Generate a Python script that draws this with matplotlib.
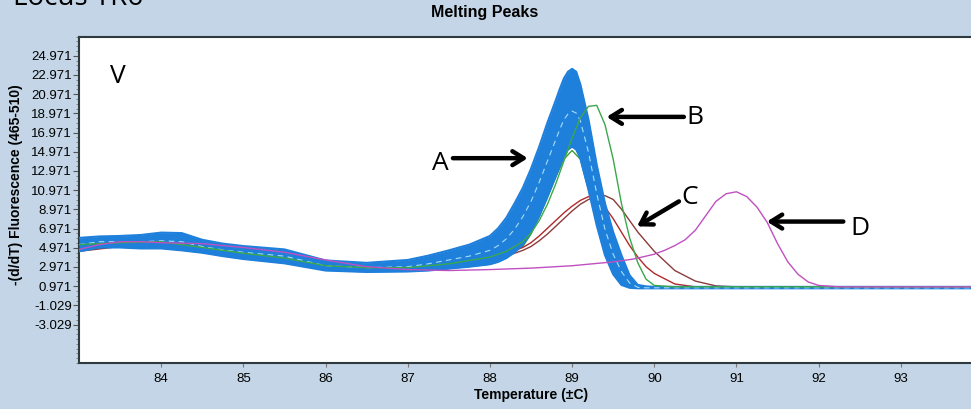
import numpy as np
import matplotlib
matplotlib.use("Agg")
import matplotlib.pyplot as plt

# group A: edges of the bundle of blue samples
blue_t = [83.0, 83.25, 83.5, 83.75, 84.0, 84.25, 84.5, 84.75, 85.0, 85.5,
          86.0, 86.5, 87.0, 87.25, 87.5, 87.75, 88.0, 88.1, 88.2, 88.3,
          88.4, 88.5, 88.6, 88.7, 88.8, 88.85, 88.9, 88.95, 89.0, 89.05,
          89.1, 89.2, 89.3, 89.4, 89.5, 89.6, 89.7, 89.8, 89.9, 90.0,
          91.0, 92.0, 93.0, 94.0]
blue_top = [6.0, 6.15, 6.2, 6.3, 6.55, 6.5, 5.8, 5.4, 5.15, 4.8,
            3.65, 3.4, 3.7, 4.15, 4.7, 5.3, 6.2, 7.0, 8.1, 9.6,
            11.2, 13.2, 15.5, 18.0, 20.3, 21.5, 22.6, 23.3, 23.6, 23.3,
            22.0, 18.3, 13.6, 9.6, 6.6, 4.2, 2.1, 1.1, 0.95, 0.9,
            0.9, 0.9, 0.9, 0.9]
blue_low = [4.6, 5.0, 5.0, 4.9, 4.9, 4.7, 4.45, 4.1, 3.8, 3.35,
            2.6, 2.45, 2.5, 2.6, 2.8, 3.0, 3.25, 3.5, 3.9, 4.5,
            5.3, 6.6, 8.3, 10.3, 12.4, 13.5, 14.5, 15.2, 15.5, 15.2,
            14.3, 11.0, 7.3, 4.2, 2.2, 1.1, 0.8, 0.75, 0.75, 0.75,
            0.75, 0.75, 0.75, 0.75]
blue_mid = [5.3, 5.6, 5.6, 5.6, 5.7, 5.6, 5.1, 4.75, 4.5, 4.1,
            3.1, 2.9, 3.0, 3.3, 3.7, 4.1, 4.7, 5.2, 5.9, 6.9,
            8.2, 9.8, 11.8, 14.0, 16.2, 17.3, 18.3, 18.9, 19.2, 19.0,
            18.2, 14.9, 10.6, 6.9, 4.3, 2.5, 1.3, 0.85, 0.8, 0.8,
            0.8, 0.8, 0.8, 0.8]

# groups B and C: green and red samples
gr_t = [83.0, 83.5, 84.0, 84.5, 85.0, 85.5, 86.0, 86.5, 87.0, 87.5,
        88.0, 88.2, 88.4, 88.5, 88.6, 88.7, 88.8, 88.9, 89.0, 89.1,
        89.2, 89.3, 89.4, 89.5, 89.6, 89.7, 89.8, 89.9, 90.0, 90.25,
        90.5, 90.75, 91.0, 92.0, 94.0]
green_b = [5.3, 5.5, 5.6, 5.0, 4.4, 3.9, 3.1, 2.9, 2.9, 3.3,
           4.0, 4.6, 5.6, 6.5, 7.8, 9.5, 11.6, 14.0, 16.4, 18.5,
           19.7, 19.8, 17.8, 14.2, 9.6, 6.0, 3.4, 1.7, 1.05, 0.9,
           0.9, 0.9, 0.9, 0.9, 0.9]
green_2 = [5.0, 5.3, 5.3, 4.8, 4.2, 3.7, 2.9, 2.7, 2.7, 3.0,
           3.3, 4.0, 5.1, 6.4, 8.2, 10.2, 12.3, 14.2, 15.1, 14.2,
           11.0, 7.5, 4.3, 2.3, 1.2, 0.9, 0.85, 0.85, 0.85, 0.85,
           0.85, 0.85, 0.85, 0.85, 0.85]
red_1 = [4.7, 5.2, 5.2, 4.7, 4.1, 3.6, 2.8, 2.6, 2.6, 2.9,
         3.9, 4.5, 5.0, 5.5, 6.2, 7.0, 7.8, 8.6, 9.3, 9.9,
         10.3, 10.2, 9.2, 8.0, 6.6, 5.2, 4.0, 3.0, 2.3, 1.2,
         0.9, 0.9, 0.9, 0.9, 0.9]
red_2 = [4.6, 5.1, 5.1, 4.6, 4.0, 3.5, 2.7, 2.5, 2.55, 2.8,
         3.6, 4.1, 4.7, 5.1, 5.7, 6.4, 7.2, 8.0, 8.8, 9.5,
         10.0, 10.3, 10.4, 10.0, 9.0, 7.8, 6.6, 5.6, 4.6, 2.6,
         1.5, 1.0, 0.9, 0.9, 0.9]

# group D: magenta sample
mag_t = [83.0, 83.25, 83.5, 83.75, 84.0, 84.5, 85.0, 85.5, 86.0, 86.5,
         87.0, 87.5, 88.0, 88.5, 89.0, 89.5, 89.75, 90.0, 90.125, 90.25,
         90.375, 90.5, 90.625, 90.75, 90.875, 91.0, 91.125, 91.25, 91.375, 91.5,
         91.625, 91.75, 91.875, 92.0, 92.25, 93.0, 94.0]
mag_d = [4.8, 5.3, 5.6, 5.6, 5.5, 5.4, 5.0, 4.5, 3.7, 3.0,
         2.7, 2.6, 2.7, 2.85, 3.1, 3.5, 3.8, 4.3, 4.7, 5.2,
         5.8, 6.8, 8.3, 9.8, 10.6, 10.8, 10.3, 9.2, 7.6, 5.4,
         3.5, 2.2, 1.4, 1.05, 0.9, 0.9, 0.9]

yticks = [-3.029 + 2 * i for i in range(15)]
xticks = [84, 85, 86, 87, 88, 89, 90, 91, 92, 93]

# annotations: label, label centre, arrow tail, arrow head (data coords)
notes = [("A", (87.40, 13.7), (87.55, 14.3), (88.46, 14.3)),
         ("B", (90.50, 18.5), (90.36, 18.6), (89.42, 18.6)),
         ("C", (90.43, 10.2), (90.30, 9.8), (89.79, 7.2)),
         ("D", (92.50, 7.0), (92.30, 7.7), (91.37, 7.7))]

bg = "#c3d5e6"
fig = plt.figure(figsize=(9.71, 4.09), dpi=100, facecolor=bg)
ax = fig.add_axes([79 / 971, 1 - 363 / 409, 904 / 971, 326.5 / 409])
ax.set_facecolor("white")

ax.plot(gr_t, green_2, color="#3c9a3c", lw=1.0, zorder=2)
ax.plot(gr_t, red_2, color="#8c3b3b", lw=1.0, zorder=2)
ax.plot(gr_t, red_1, color="#b02a2a", lw=1.0, zorder=2)
ax.fill_between(blue_t, blue_low, blue_top, color="#1f80dc", lw=0, zorder=3)
ax.plot(blue_t, blue_top, color="#1f80dc", lw=1.5, zorder=3)
ax.plot(blue_t, blue_low, color="#1f80dc", lw=1.5, zorder=3)
ax.plot(blue_t, blue_mid, color="#a6def7", lw=0.8, ls=(0, (5, 4)), zorder=3)
ax.plot(gr_t, green_b, color="#3aa84a", lw=1.0, zorder=4)
ax.plot(mag_t, mag_d, color="#c050c0", lw=1.0, zorder=4)

for lab, tp, tail, head in notes:
    ax.annotate("", xy=head, xytext=tail,
                arrowprops=dict(arrowstyle="->,head_length=0.8,head_width=0.5",
                                color="black", lw=3.2, shrinkA=0, shrinkB=0),
                zorder=6)
    ax.text(tp[0], tp[1], lab, fontsize=19, family="Open Sans",
            ha="center", va="center", zorder=6)
ax.text(83.47, 22.8, "V", fontsize=19, family="Open Sans", ha="center", va="center")

ax.set_xlim(83.0, 94.0)
ax.set_ylim(-7.029, 26.971)
ax.set_xticks(xticks)
ax.set_xticklabels([str(x) for x in xticks], family="Liberation Sans", fontsize=9.5)
ax.set_yticks(yticks)
ax.set_yticklabels(["%.3f" % y for y in yticks], family="Liberation Sans", fontsize=9.5)
ax.set_yticks(np.arange(-7.029, 26.99, 0.5), minor=True)
ax.tick_params(axis="y", which="major", length=4, width=0.8, pad=1, color="#555555")
ax.tick_params(axis="y", which="minor", length=2, width=0.6, color="#777777")
ax.tick_params(axis="x", length=3, width=0.8, pad=4, color="#777777")
for s in ["left", "bottom", "top"]:
    ax.spines[s].set_color("#2f3a3e")
    ax.spines[s].set_linewidth(1.5)
ax.spines["right"].set_visible(False)

ax.set_xlabel("Temperature (\u00b1C)", family="Liberation Sans", fontweight="bold",
              fontsize=10, labelpad=2)
fig.text(16 / 971, 1 - 185 / 409, "-(d/dT) Fluorescence (465-510)", rotation=90,
         family="Liberation Sans", fontweight="bold", fontsize=10,
         ha="center", va="center")
fig.text(485 / 971, 1 - 13 / 409, "Melting Peaks", family="Liberation Sans",
         fontweight="bold", fontsize=11.5, ha="center", va="center")
# page heading, cut by the top edge like in the screenshot
fig.text(13 / 971, 1 - 5 / 409, "Locus TR6", family="Open Sans", fontsize=20,
         ha="left", va="baseline")

fig.savefig("out.png", dpi=100, facecolor=bg)
